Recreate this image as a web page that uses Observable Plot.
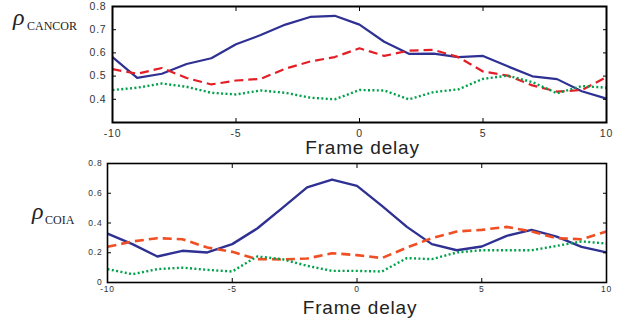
<!DOCTYPE html>
<html>
<head>
<meta charset="utf-8">
<script src="https://cdn.jsdelivr.net/npm/d3@7"></script>
<script src="https://cdn.jsdelivr.net/npm/@observablehq/plot@0.6"></script>
<style>
  html, body { margin: 0; padding: 0; background: #fff; }
  #wrap { position: relative; width: 626px; height: 323px; overflow: hidden; }
  .panel { position: absolute; left: 0; }
  .panel svg text { letter-spacing: 0.8px; }
  .panel svg text.lab, .panel svg text.rho { letter-spacing: 0; }
</style>
</head>
<body>
<div id="wrap">
  <div class="panel" id="topPanel" style="top:0px"></div>
  <div class="panel" id="bottomPanel" style="top:150px"></div>
</div>
<script>
// ---- data ----
const frames = [-10, -9, -8, -7, -6, -5, -4, -3, -2, -1, 0, 1, 2, 3, 4, 5, 6, 7, 8, 9, 10];

const cancorSolid  = [0.582, 0.492, 0.510, 0.552, 0.577, 0.637, 0.677, 0.722, 0.755, 0.760, 0.722, 0.648, 0.596, 0.597, 0.582, 0.587, 0.542, 0.499, 0.487, 0.435, 0.403];
const cancorDashed = [0.530, 0.510, 0.535, 0.492, 0.464, 0.481, 0.488, 0.532, 0.563, 0.582, 0.620, 0.587, 0.610, 0.613, 0.582, 0.520, 0.502, 0.460, 0.433, 0.440, 0.496];
const cancorDotted = [0.440, 0.450, 0.468, 0.454, 0.428, 0.421, 0.438, 0.428, 0.407, 0.400, 0.440, 0.438, 0.400, 0.431, 0.443, 0.488, 0.502, 0.474, 0.426, 0.457, 0.450];

const coiaSolid  = [0.329, 0.258, 0.175, 0.213, 0.202, 0.258, 0.363, 0.500, 0.639, 0.692, 0.650, 0.515, 0.374, 0.258, 0.217, 0.242, 0.314, 0.354, 0.309, 0.240, 0.202];
const coiaDashed = [0.240, 0.276, 0.298, 0.291, 0.235, 0.206, 0.157, 0.155, 0.161, 0.197, 0.184, 0.164, 0.235, 0.298, 0.343, 0.354, 0.374, 0.343, 0.298, 0.291, 0.343];
const coiaDotted = [0.090, 0.056, 0.090, 0.100, 0.085, 0.074, 0.175, 0.157, 0.112, 0.078, 0.078, 0.074, 0.164, 0.157, 0.202, 0.217, 0.217, 0.217, 0.246, 0.276, 0.262];

const xTicks = [-10, -5, 0, 5, 10];
const yTicksTop = [0.4, 0.5, 0.6, 0.7, 0.8];
const yTicksBottom = [0, 0.2, 0.4, 0.6, 0.8];
const xLabel = "Frame delay";

const blue = "#2e3192";
const redTop = "#e41e26";
const redBottom = "#f04e23";
const green = "#00a14b";

const rows = vals => frames.map((f, i) => ({frame: f, value: vals[i]}));

function panel({height, marginLeft, marginTop, marginBottom, yDomain, yTicks, yFmt, series, fontSize, frameWidth, xPad, yPad, labelDy}) {
  const lineMarks = series.map(s => Plot.lineY(rows(s.values), {
    x: "frame", y: "value", stroke: s.color, strokeWidth: s.width,
    strokeDasharray: s.dash, strokeLinecap: "butt", strokeLinejoin: "round"
  }));
  return Plot.plot({
    width: 626, height, marginLeft, marginRight: 20, marginTop, marginBottom,
    style: {fontFamily: "'Liberation Sans', Arial, sans-serif", fontSize: fontSize + "px", color: "#333", background: "transparent", overflow: "visible"},
    x: {domain: [-10, 10], label: null},
    y: {domain: yDomain, label: null},
    marks: [
      ...lineMarks,
      Plot.axisX(xTicks, {anchor: "bottom", tickSize: 0, tickPadding: xPad, tickFormat: d => String(d), label: null}),
      Plot.axisY(yTicks, {anchor: "left", tickSize: 0, tickPadding: yPad, tickFormat: yFmt, label: null}),
      Plot.axisX(xTicks, {anchor: "bottom", tickSize: -4, fill: "none", stroke: "#000", label: null}),
      Plot.axisX(xTicks, {anchor: "top", tickSize: -4, fill: "none", stroke: "#000", label: null}),
      Plot.axisY(yTicks, {anchor: "left", tickSize: -4, fill: "none", stroke: "#000", label: null}),
      Plot.axisY(yTicks, {anchor: "right", tickSize: -4, fill: "none", stroke: "#000", label: null}),
      Plot.frame({stroke: "#000", strokeWidth: frameWidth}),
      Plot.text([xLabel], {frameAnchor: "bottom", dx: 3, dy: labelDy, lineAnchor: "middle", fontSize: 19, fill: "#222", className: "lab"})
    ]
  });
}

const topChart = panel({
  height: 160, marginLeft: 112, marginTop: 6, marginBottom: 38,
  yDomain: [0.3, 0.8], yTicks: yTicksTop, yFmt: d => d.toFixed(1),
  fontSize: 10.5, frameWidth: 2, xPad: 7, yPad: 6, labelDy: 25,
  series: [
    {values: cancorSolid, color: blue, width: 2.2, dash: null},
    {values: cancorDashed, color: redTop, width: 2.2, dash: "9,5"},
    {values: cancorDotted, color: green, width: 2.4, dash: "2,2.4"}
  ]
});

const bottomChart = panel({
  height: 173, marginLeft: 107, marginTop: 13, marginBottom: 41,
  yDomain: [0, 0.8], yTicks: yTicksBottom, yFmt: d => d === 0 ? "0" : d.toFixed(1),
  fontSize: 8.5, frameWidth: 1.6, xPad: 3, yPad: 5, labelDy: 25,
  series: [
    {values: coiaSolid, color: blue, width: 2.4, dash: null},
    {values: coiaDashed, color: redBottom, width: 2.6, dash: "9,5"},
    {values: coiaDotted, color: green, width: 2.4, dash: "2,2.4"}
  ]
});

document.getElementById("topPanel").appendChild(topChart);
document.getElementById("bottomPanel").appendChild(bottomChart);

function rho(svg, x, y, sub, subX, subY) {
  const g = d3.select(svg).append("g").attr("fill", "#222").attr("text-anchor", "start");
  g.append("text").attr("class", "rho").attr("x", x).attr("y", y)
    .attr("text-anchor", "start")
    .attr("font-family", "'Liberation Serif', 'DejaVu Serif', serif")
    .attr("font-style", "italic").attr("font-size", 24).text("ρ");
  g.append("text").attr("class", "rho").attr("x", subX).attr("y", subY)
    .attr("text-anchor", "start")
    .attr("font-family", "'Liberation Serif', 'DejaVu Serif', serif")
    .attr("font-size", 12).text(sub);
}
rho(topChart, 13, 25, "CANCOR", 27, 29.5);
rho(bottomChart, 32, 69, "COIA", 45, 74.3);
</script>
</body>
</html>
